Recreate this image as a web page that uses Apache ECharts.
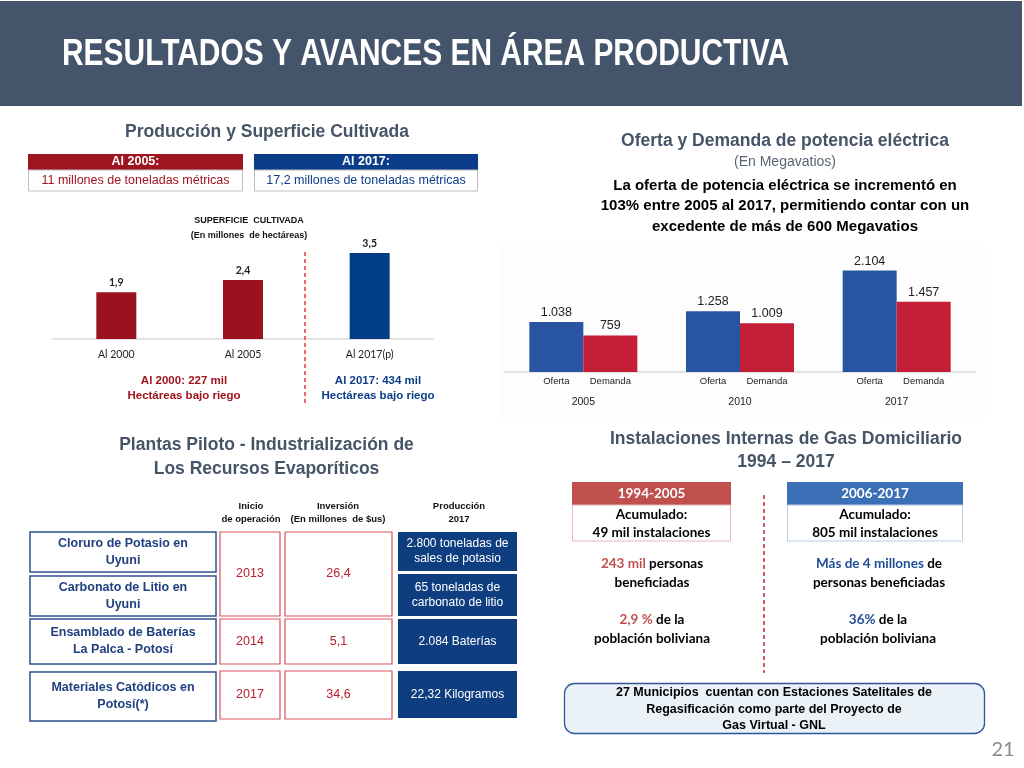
<!DOCTYPE html>
<html>
<head>
<meta charset="utf-8">
<script src="https://cdn.jsdelivr.net/npm/echarts@6/dist/echarts.min.js"></script>
<style>
html,body{margin:0;padding:0;background:#fff;}
#main{width:1024px;height:768px;}
</style>
</head>
<body>
<div id="main"></div>
<script>
// ---------- DATA ----------
const slideTitle = 'RESULTADOS Y AVANCES EN ÁREA PRODUCTIVA';
const supCategories = ['Al 2000', 'Al 2005', 'Al 2017(p)'];
const supValues = [1.9, 2.4, 3.5];
const potYears = ['2005', '2010', '2017'];
const ofertaValues = [1038, 1258, 2104];
const demandaValues = [759, 1009, 1457];
const plantNames = ['Cloruro de Potasio en\nUyuni', 'Carbonato de Litio en\nUyuni', 'Ensamblado de Baterías\nLa Palca - Potosí', 'Materiales Catódicos en\nPotosí(*)'];
const plantStart = ['2013', '2014', '2017'];
const plantInvest = [26.4, 5.1, 34.6];
const plantProd = ['2.800 toneladas de\nsales de potasio', '65 toneladas de\ncarbonato de litio', '2.084 Baterías', '22,32 Kilogramos'];

// ---------- HELPERS ----------
const ARIAL = "'Liberation Sans', Arial, sans-serif";
const CAL = "Lato, 'Open Sans', sans-serif";
const SLATE = '#465468';
function fmtDec(v){ return String(v).replace('.', ','); }
function fmtTh(v){ return String(v).replace(/\B(?=(\d{3})+(?!\d))/g, '.'); }
function T(x, y, text, o){
  o = o || {};
  const st = {
    text: text, fill: o.color || '#000', fontSize: o.size || 12,
    fontWeight: o.weight || 'normal', fontFamily: o.family || ARIAL,
    align: o.align || 'center', verticalAlign: 'middle',
    textAlign: o.align || 'center', textVerticalAlign: 'middle',
    lineHeight: o.lh || Math.round((o.size || 12) * 1.25)
  };
  if (o.rich) st.rich = o.rich;
  const el = {type: 'text', x: x, y: y, z: 10, style: st};
  if (o.scaleX) { el.scaleX = o.scaleX; el.originX = 0; }
  return el;
}
function R(x, y, w, h, fill, stroke, lw, r){
  return {type: 'rect', z: 5, shape: {x: x, y: y, width: w, height: h, r: r || 0},
    style: {fill: fill || 'none', stroke: stroke || 'none', lineWidth: lw || 1}};
}
function richTok(color, size, weight, family){
  return {fill: color, color: color, fontSize: size, fontWeight: weight, fontFamily: family};
}

// fit title width
const cv = document.createElement('canvas').getContext('2d');
const TITLE_FONT = "'Liberation Sans Narrow', 'Liberation Sans', sans-serif";
cv.font = 'bold 37px ' + TITLE_FONT;
const titleW = cv.measureText(slideTitle).width;
const titleScale = 727 / titleW;

const g = [];
// header
g.push({type: 'rect', z: 1, shape: {x: 0, y: 1, width: 1022, height: 105}, style: {fill: '#44546A'}});
g.push(T(62, 55, slideTitle, {color: '#fff', size: 37, weight: 'bold', family: TITLE_FONT, align: 'left', scaleX: titleScale}));

// ---- Section 1 ----
g.push(T(267, 132, 'Producción y Superficie Cultivada', {color: SLATE, size: 17.5, weight: 'bold'}));
g.push(R(28, 154, 215, 16, '#9E1520'));
g.push(T(135.5, 162, 'Al 2005:', {color: '#fff', size: 12.5, weight: 'bold'}));
g.push(R(28.5, 170, 214, 21, '#fff', '#BFBFBF', 1));
g.push(T(135.5, 180.5, '11 millones de toneladas métricas', {color: '#A0141F', size: 12.5}));
g.push(R(254, 154, 224, 16, '#0C3D8B'));
g.push(T(366, 162, 'Al 2017:', {color: '#fff', size: 12.5, weight: 'bold'}));
g.push(R(254.5, 170, 223, 21, '#fff', '#BFBFBF', 1));
g.push(T(366, 180.5, '17,2 millones de toneladas métricas', {color: '#0C3D8B', size: 12.5}));
g.push(T(249, 221, 'SUPERFICIE  CULTIVADA', {color: '#111', size: 9, weight: 'bold'}));
g.push(T(249, 235.5, '(En millones  de hectáreas)', {color: '#111', size: 9, weight: 'bold'}));
g.push({type: 'line', z: 6, shape: {x1: 305, y1: 252, x2: 305, y2: 406}, style: {stroke: '#E8393C', lineWidth: 1.5, lineDash: [4, 3]}});
g.push(T(184, 388.5, 'Al 2000: 227 mil\nHectáreas bajo riego', {color: '#A0141F', size: 11.5, weight: 'bold', lh: 15}));
g.push(T(378, 388.5, 'Al 2017: 434 mil\nHectáreas bajo riego', {color: '#0C3D8B', size: 11.5, weight: 'bold', lh: 15}));

// ---- Section 2 ----
g.push({type: 'rect', z: 0, shape: {x: 500, y: 246, width: 486, height: 172}, style: {fill: '#FDFDFD'}});
g.push(T(785, 141, 'Oferta y Demanda de potencia eléctrica', {color: SLATE, size: 17.5, weight: 'bold'}));
g.push(T(785, 162.5, '(En Megavatios)', {color: '#5A6474', size: 14}));
g.push(T(785, 206, 'La oferta de potencia eléctrica se incrementó en\n103% entre 2005 al 2017, permitiendo contar con un\nexcedente de más de 600 Megavatios', {color: '#000', size: 15, weight: 'bold', lh: 20.5}));

// ---- Section 3 ----
g.push(T(266.5, 457, 'Plantas Piloto - Industrialización de\nLos Recursos Evaporíticos', {color: SLATE, size: 17.5, weight: 'bold', lh: 24}));
g.push(T(251, 512.5, 'Inicio\nde operación', {color: '#111', size: 9.5, weight: 'bold', lh: 13}));
g.push(T(338, 512.5, 'Inversión\n(En millones  de $us)', {color: '#111', size: 9.5, weight: 'bold', lh: 13}));
g.push(T(459, 512.5, 'Producción\n2017', {color: '#111', size: 9.5, weight: 'bold', lh: 13}));
const leftBoxes = [[532, 40], [576, 40], [619, 45], [672, 49]];
leftBoxes.forEach(function(b, i){
  g.push(R(30, b[0], 186, b[1], '#fff', '#2F528F', 1.5));
  g.push(T(123, b[0] + b[1] / 2, plantNames[i], {color: '#1F3F7F', size: 12.5, weight: 'bold', lh: 17}));
});
const redRows = [[532, 84], [619, 45], [671, 48]];
redRows.forEach(function(b, i){
  g.push(R(220, b[0], 60, b[1], '#fff', '#D9545F', 1.2));
  g.push(T(250, b[0] + b[1] / 2, plantStart[i], {color: '#B7202E', size: 12.5}));
  g.push(R(285, b[0], 107, b[1], '#fff', '#D9545F', 1.2));
  g.push(T(338.5, b[0] + b[1] / 2, fmtDec(plantInvest[i]), {color: '#B7202E', size: 12.5}));
});
const prodBoxes = [[532, 39], [574, 42], [619, 45], [671, 47]];
prodBoxes.forEach(function(b, i){
  g.push(R(398, b[0], 119, b[1], '#0F3E80'));
  g.push(T(457.5, b[0] + b[1] / 2, plantProd[i], {color: '#fff', size: 12, lh: 15}));
});

// ---- Section 4 ----
g.push(T(786, 450.5, 'Instalaciones Internas de Gas Domiciliario\n1994 – 2017', {color: SLATE, size: 17.5, weight: 'bold', lh: 23}));
g.push(R(572, 482, 159, 23, '#C0504D'));
g.push(T(651.5, 493.5, '1994-2005', {color: '#fff', size: 13.5, weight: 'bold', family: CAL}));
g.push(R(572.5, 505, 158, 36, '#fff', '#E6B9B8', 1));
g.push(T(651.5, 524, 'Acumulado:\n49 mil instalaciones', {color: '#000', size: 13.5, weight: 'bold', family: CAL, lh: 18}));
g.push(R(787, 482, 176, 23, '#3C70B6'));
g.push(T(875, 493.5, '2006-2017', {color: '#fff', size: 13.5, weight: 'bold', family: CAL}));
g.push(R(787.5, 505, 175, 36, '#fff', '#B9CDE5', 1));
g.push(T(875, 524, 'Acumulado:\n805 mil instalaciones', {color: '#000', size: 13.5, weight: 'bold', family: CAL, lh: 18}));
g.push({type: 'line', z: 6, shape: {x1: 764, y1: 495, x2: 764, y2: 673}, style: {stroke: '#C0272D', lineWidth: 1.5, lineDash: [4, 3]}});
const RED4 = '#C0504D', BLUE4 = '#1F4E96';
const rs = {
  r: richTok(RED4, 13.5, 'bold', CAL), b: richTok(BLUE4, 13.5, 'bold', CAL), k: richTok('#000', 13.5, 'bold', CAL)
};
g.push(T(652, 573.5, '{r|243 mil}{k| personas}\n{k|beneficiadas}', {size: 13.5, weight: 'bold', family: CAL, lh: 19, rich: rs}));
g.push(T(652, 629.5, '{r|2,9 %}{k| de la}\n{k|población boliviana}', {size: 13.5, weight: 'bold', family: CAL, lh: 19, rich: rs}));
g.push(T(879, 573, '{b|Más de 4 millones}{k| de}\n{k|personas beneficiadas}', {size: 13.5, weight: 'bold', family: CAL, lh: 19, rich: rs}));
g.push(T(878, 629, '{b|36%}{k| de la}\n{k|población boliviana}', {size: 13.5, weight: 'bold', family: CAL, lh: 19, rich: rs}));
g.push(R(564.5, 683.5, 420, 50, '#EAF1F7', '#2F5597', 1.3, 10));
g.push(T(774, 709.5, '27 Municipios  cuentan con Estaciones Satelitales de\nRegasificación como parte del Proyecto de\nGas Virtual - GNL', {color: '#000', size: 12.5, weight: 'bold', lh: 16.5}));
g.push(T(1003, 750, '21', {color: '#8C8C8C', size: 20, family: CAL}));

// ---------- CHART ----------
const chart = echarts.init(document.getElementById('main'), null, {renderer: 'canvas'});
const supColors = ['#9B111E', '#9B111E', '#003D85'];
chart.setOption({
  animation: false,
  backgroundColor: '#fff',
  graphic: {elements: g},
  grid: [
    {left: 53, width: 380, top: 240.6, height: 98.4},
    {left: 505, width: 470, top: 251.5, height: 120.5}
  ],
  xAxis: [
    {gridIndex: 0, type: 'category', data: supCategories,
      axisLine: {lineStyle: {color: '#D9D9D9', width: 1.5}}, axisTick: {show: false},
      axisLabel: {interval: 0, color: '#222', fontSize: 10.5, fontFamily: CAL, margin: 10}},
    {gridIndex: 1, type: 'category', data: potYears,
      axisLine: {lineStyle: {color: '#D9D9D9', width: 1.5}}, axisTick: {show: false},
      axisLabel: {interval: 0, hideOverlap: false, margin: 3,
        formatter: function(v){ return '{a|Oferta}{a|Demanda}\n{y|' + v + '}'; },
        rich: {a: {width: 54, align: 'center', fontSize: 9.5, color: '#222', fontFamily: ARIAL, lineHeight: 13},
               y: {width: 108, align: 'center', fontSize: 10.5, color: '#222', fontFamily: ARIAL, lineHeight: 28}}}}
  ],
  yAxis: [
    {gridIndex: 0, type: 'value', min: 0, max: 4, show: false},
    {gridIndex: 1, type: 'value', min: 0, max: 2500, show: false}
  ],
  series: [
    {type: 'bar', xAxisIndex: 0, yAxisIndex: 0, barWidth: 40,
      data: supValues.map(function(v, i){ return {value: v, itemStyle: {color: supColors[i]}}; }),
      label: {show: true, position: 'top', distance: 4, color: '#222', fontSize: 10.5, fontWeight: 'bold', fontFamily: CAL,
        formatter: function(p){ return fmtDec(p.value); }}},
    {type: 'bar', name: 'Oferta', xAxisIndex: 1, yAxisIndex: 1, barWidth: 54, barGap: '0%',
      data: ofertaValues, itemStyle: {color: '#2854A1'},
      label: {show: true, position: 'top', distance: 3, color: '#222', fontSize: 12.5, fontFamily: ARIAL,
        formatter: function(p){ return fmtTh(p.value); }}},
    {type: 'bar', name: 'Demanda', xAxisIndex: 1, yAxisIndex: 1, barWidth: 54, barGap: '0%',
      data: demandaValues, itemStyle: {color: '#C41F36'},
      label: {show: true, position: 'top', distance: 3, color: '#222', fontSize: 12.5, fontFamily: ARIAL,
        formatter: function(p){ return fmtTh(p.value); }}}
  ]
});
</script>
</body>
</html>
